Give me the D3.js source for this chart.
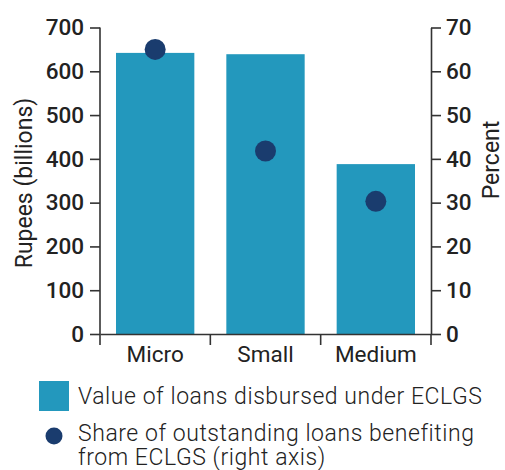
<!DOCTYPE html>
<html><head><meta charset="utf-8">
<script src="https://cdn.jsdelivr.net/npm/d3@7"></script>
<style>
html,body{margin:0;padding:0;background:#fff;}
svg{display:block;font-family:Roboto, "Noto Sans", sans-serif;}
</style></head>
<body>
<svg id="chart" width="505" height="470"></svg>
<script>
const categories = ["Micro", "Small", "Medium"];
const loanValues = [642, 639, 388];        // Rupees (billions), left axis
const sharePercent = [65, 41.8, 30.3];     // Percent, right axis
const leftTicks = [0, 100, 200, 300, 400, 500, 600, 700];
const rightTicks = [0, 10, 20, 30, 40, 50, 60, 70];
const legendLabels = ["Value of loans disbursed under ECLGS", ["Share of outstanding loans benefiting", "from ECLGS (right axis)"]];

const barColor = "#2398bd", dotColor = "#1a3c6e", axisColor = "#333", textColor = "#222";
const svg = d3.select("#chart");
const L = 100, R = 431, T = 27.5, B = 334;

const x = d3.scaleBand().domain(categories).range([L, R]).paddingInner(0.29).paddingOuter(0.145);
const yL = d3.scaleLinear().domain([0, 700]).range([B, T]);
const yR = d3.scaleLinear().domain([0, 70]).range([B, T]);

svg.append("g").selectAll("rect").data(categories).join("rect")
  .attr("x", d => x(d)).attr("width", x.bandwidth())
  .attr("y", (d, i) => yL(loanValues[i])).attr("height", (d, i) => yL(0) - yL(loanValues[i]))
  .attr("fill", barColor);

svg.append("g").selectAll("circle").data(categories).join("circle")
  .attr("cx", d => x(d) + x.bandwidth() / 2).attr("cy", (d, i) => yR(sharePercent[i]))
  .attr("r", 10.5).attr("fill", dotColor);

function styleAxis(g) {
  g.selectAll("path, line").attr("stroke", axisColor).attr("stroke-width", 1.6);
  g.selectAll("text").attr("fill", textColor).style("font-family", "Roboto").style("font-weight", 500).style("font-size", "22.5px");
}

svg.append("g").attr("transform", `translate(${L},0)`)
  .call(d3.axisLeft(yL).tickValues(leftTicks).tickSizeInner(10).tickSizeOuter(0).tickPadding(6))
  .call(styleAxis).call(g => g.select(".domain").attr("d", `M0,${B}V${T}`));

svg.append("g").attr("transform", `translate(${R},0)`)
  .call(d3.axisRight(yR).tickValues(rightTicks).tickSizeInner(10).tickSizeOuter(0).tickPadding(5))
  .call(styleAxis);

const bx = svg.append("g").attr("transform", `translate(0,${B})`)
  .call(d3.axisBottom(x).tickSize(0).tickPadding(12)).call(styleAxis);
bx.selectAll("text").style("font-weight", 400).style("font-size", "22.5px").attr("dy", "0.71em");
const bounds = categories.map(d => x(d) - x.step() * x.paddingInner() / 2).concat([R]);
bounds[0] = L;
bx.selectAll(".bound").data(bounds).join("line").attr("class", "bound")
  .attr("x1", d => d).attr("x2", d => d).attr("y1", 0).attr("y2", 11)
  .attr("stroke", axisColor).attr("stroke-width", 1.6);

svg.append("text").attr("transform", "translate(32,183) rotate(-90)").attr("text-anchor", "middle")
  .style("font-size", "23px").attr("fill", textColor).text("Rupees (billions)");
svg.append("text").attr("transform", "translate(499,160) rotate(-90)").attr("text-anchor", "middle")
  .style("font-size", "23px").attr("fill", textColor).text("Percent");

const lg = svg.append("g");
lg.append("rect").attr("x", 39).attr("y", 381).attr("width", 30).attr("height", 30).attr("fill", barColor);
const t1 = lg.append("text").attr("x", 78).attr("y", 404).style("font-size", "23px").style("font-weight", 300)
  .attr("fill", textColor).text(legendLabels[0]);
const w = t1.node().getComputedTextLength();
const ls = (404 - w) / (legendLabels[0].length - 1);
t1.style("letter-spacing", ls + "px");
lg.append("circle").attr("cx", 54).attr("cy", 436).attr("r", 8.5).attr("fill", dotColor);
const t2 = lg.append("text").style("font-size", "23px").style("font-weight", 300).attr("fill", textColor)
  .style("letter-spacing", ls + "px");
legendLabels[1].forEach((s, i) => t2.append("tspan").attr("x", 78).attr("y", 441 + i * 23.5).text(s));
</script>
</body></html>
